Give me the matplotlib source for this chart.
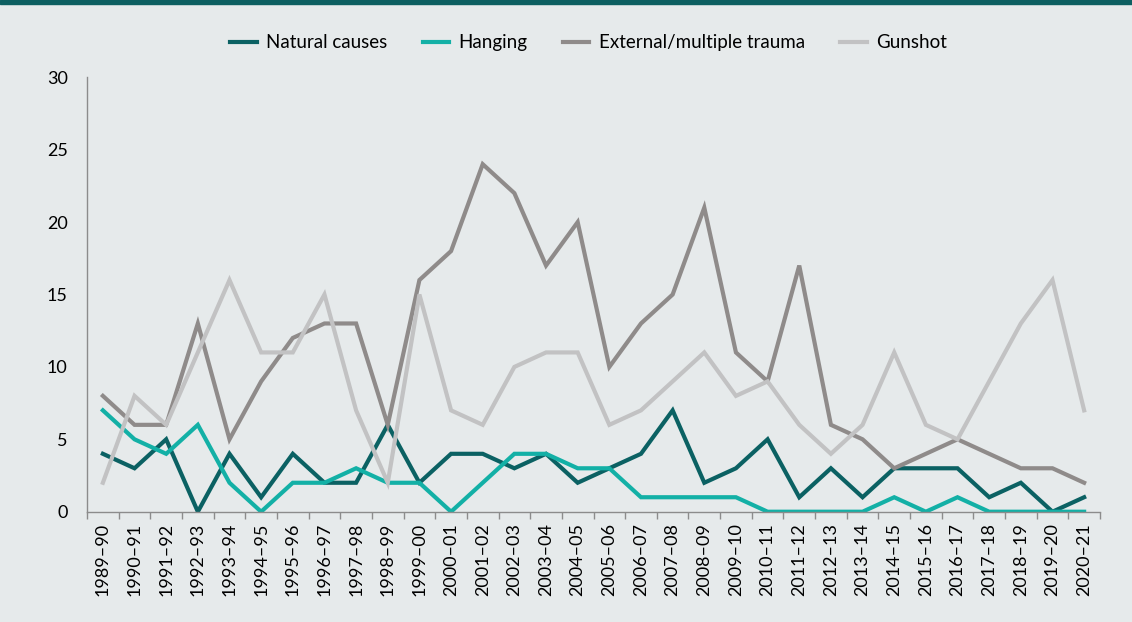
import matplotlib
matplotlib.use("Agg")
import matplotlib.pyplot as plt
import numpy as np

plt.rcParams['font.family'] = ['Lato', 'DejaVu Sans']

years = ['1989–90', '1990–91', '1991–92', '1992–93', '1993–94', '1994–95', '1995–96',
         '1996–97', '1997–98', '1998–99', '1999–00', '2000–01', '2001–02', '2002–03',
         '2003–04', '2004–05', '2005–06', '2006–07', '2007–08', '2008–09', '2009–10',
         '2010–11', '2011–12', '2012–13', '2013–14', '2014–15', '2015–16', '2016–17',
         '2017–18', '2018–19', '2019–20', '2020–21']

natural = [4, 3, 5, 0, 4, 1, 4, 2, 2, 6, 2, 4, 4, 3, 4, 2, 3, 4, 7, 2, 3, 5, 1, 3,
           1, 3, 3, 3, 1, 2, 0, 1]
hanging = [7, 5, 4, 6, 2, 0, 2, 2, 3, 2, 2, 0, 2, 4, 4, 3, 3, 1, 1, 1, 1, 0, 0, 0,
           0, 1, 0, 1, 0, 0, 0, 0]
trauma = [8, 6, 6, 13, 5, 9, 12, 13, 13, 6, 16, 18, 24, 22, 17, 20, 10, 13, 15, 21,
          11, 9, 17, 6, 5, 3, 4, 5, 4, 3, 3, 2]
gunshot = [2, 8, 6, 11, 16, 11, 11, 15, 7, 2, 15, 7, 6, 10, 11, 11, 6, 7, 9, 11, 8,
           9, 6, 4, 6, 11, 6, 5, 9, 13, 16, 7]

series = [("Natural causes", natural, "#0b6163"),
          ("Hanging", hanging, "#13b0a6"),
          ("External/multiple trauma", trauma, "#8f8b8a"),
          ("Gunshot", gunshot, "#c2c2c3")]

bg = "#e6eaeb"
fig = plt.figure(figsize=(11.32, 6.22), dpi=100, facecolor=bg)
ax = fig.add_axes([0.0769, 0.1773, 0.8948, 0.6984], facecolor=bg)

x = np.arange(len(years))
for name, vals, col in series:
    ax.plot(x, vals, color=col, lw=3, label=name, solid_joinstyle='miter')

ax.set_xlim(-0.5, len(years) - 0.5)
ax.set_ylim(0, 30)
ax.set_yticks(range(0, 31, 5))
ax.tick_params(axis='y', length=0, pad=14, labelsize=13, colors='black')
ax.set_xticks(x)
ax.set_xticklabels(years, rotation=90, fontsize=13)
ax.tick_params(axis='x', which='major', length=0, pad=8)
ax.set_xticks(np.arange(-0.5, len(years), 1), minor=True)
ax.tick_params(axis='x', which='minor', length=5, color='#8c8c8c', width=1)

for s in ['top', 'right']:
    ax.spines[s].set_visible(False)
for s in ['left', 'bottom']:
    ax.spines[s].set_color('#8c8c8c')
    ax.spines[s].set_linewidth(1)

fig.legend(loc='center', bbox_to_anchor=(0.52, 0.931), ncol=4, frameon=False,
           fontsize=13.5, handlelength=1.4, columnspacing=1.9, handletextpad=0.5)

fig.patches.append(plt.Rectangle((0, 0.993), 1, 0.007, transform=fig.transFigure,
                                 color="#0d5f61", zorder=10))

fig.savefig("out.png", dpi=100, facecolor=bg)
